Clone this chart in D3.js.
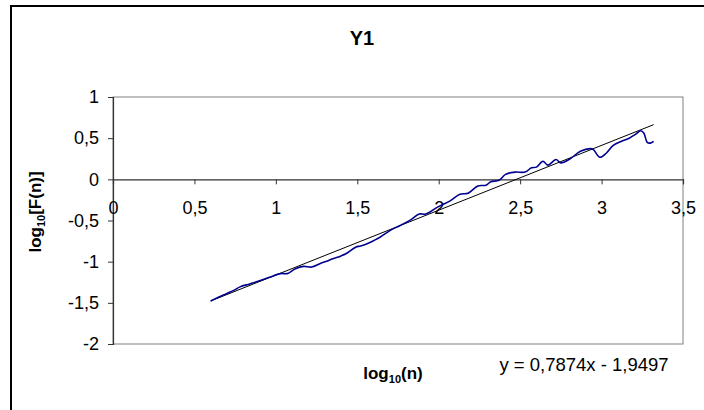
<!DOCTYPE html>
<html>
<head>
<meta charset="utf-8">
<script src="https://cdn.jsdelivr.net/npm/d3@7"></script>
<style>
  html, body { margin: 0; padding: 0; background: #fff; }
  svg { display: block; font-family: Arial, "Liberation Sans", sans-serif; }
</style>
</head>
<body>
<svg id="chart" width="704" height="410"></svg>
<script>
// ---- data ----
const title = "Y1";
const logN = [0.60,0.65,0.70,0.75,0.78,0.84,0.90,0.96,1.03,1.07,1.12,1.17,1.22,1.27,1.31,1.35,1.40,1.43,1.49,1.52,1.56,1.60,1.64,1.70,1.76,1.82,1.88,1.92,1.99,2.03,2.07,2.13,2.18,2.24,2.29,2.32,2.37,2.41,2.47,2.53,2.57,2.60,2.64,2.67,2.72,2.75,2.80,2.87,2.93,2.95,2.99,3.03,3.07,3.12,3.17,3.21,3.24,3.26,3.28,3.30,3.32];
const logF = [-1.478,-1.43,-1.386,-1.34,-1.306,-1.27,-1.233,-1.19,-1.145,-1.145,-1.085,-1.057,-1.065,-1.024,-0.995,-0.964,-0.93,-0.904,-0.824,-0.81,-0.783,-0.745,-0.703,-0.623,-0.563,-0.502,-0.422,-0.422,-0.341,-0.30,-0.261,-0.181,-0.169,-0.08,-0.072,-0.029,-0.012,0.06,0.088,0.088,0.14,0.148,0.22,0.172,0.24,0.2,0.24,0.34,0.373,0.36,0.268,0.32,0.41,0.46,0.50,0.55,0.59,0.56,0.45,0.44,0.46];
const trendSlope = 0.7874;
const trendIntercept = -1.9497;
const trendLabel = "y = 0,7874x - 1,9497";
const xTicks = [0, 0.5, 1, 1.5, 2, 2.5, 3, 3.5];
const yTicks = [1, 0.5, 0, -0.5, -1, -1.5, -2];
const fmt = v => String(v).replace(".", ",");

// ---- layout ----
const svg = d3.select("#chart");
const L = 113, R = 683, T = 97, B = 344;
const x = d3.scaleLinear().domain([0, 3.5]).range([L, R]);
const y = d3.scaleLinear().domain([-2, 1]).range([B, T]);
const FONT = "Arial, 'Liberation Sans', sans-serif";

// outer chart border (only top & left visible)
svg.append("rect").attr("x", 11).attr("y", 6).attr("width", 800).attr("height", 500)
  .attr("fill", "#fff").attr("stroke", "#000").attr("stroke-width", 2);

// plot area
svg.append("rect").attr("x", L).attr("y", T).attr("width", R - L).attr("height", B - T)
  .attr("fill", "#fff").attr("stroke", "#808080").attr("stroke-width", 1);

// title
svg.append("text").attr("x", 362).attr("y", 45).attr("text-anchor", "middle")
  .attr("font-size", 20).attr("font-weight", "bold").text(title);

// y axis
const yAxis = d3.axisLeft(y).tickValues(yTicks).tickSize(5).tickPadding(9).tickFormat(fmt);
const gy = svg.append("g").attr("transform", `translate(${L},0)`).call(yAxis);
gy.select(".domain").attr("stroke", "#333").attr("stroke-width", 1.2);
gy.selectAll(".tick line").attr("stroke", "#333");
gy.selectAll("text").attr("font-size", 18).attr("font-family", FONT).attr("fill", "#000");

// x axis at y = 0
const xAxis = d3.axisBottom(x).tickValues(xTicks).tickSize(5).tickPadding(17).tickFormat(fmt);
const gx = svg.append("g").attr("transform", `translate(0,${y(0)})`).call(xAxis);
gx.select(".domain").attr("stroke", "#333").attr("stroke-width", 1.2);
gx.selectAll(".tick line").attr("stroke", "#333");
gx.selectAll("text").attr("font-size", 18).attr("font-family", FONT).attr("fill", "#000");

// trend line
const x0 = d3.min(logN), x1 = d3.max(logN);
svg.append("line")
  .attr("x1", x(x0)).attr("y1", y(trendSlope * x0 + trendIntercept))
  .attr("x2", x(x1)).attr("y2", y(trendSlope * x1 + trendIntercept))
  .attr("stroke", "#000").attr("stroke-width", 1);

// data line
const pts = logN.map((v, i) => [v, logF[i]]);
svg.append("path").datum(pts)
  .attr("fill", "none").attr("stroke", "#000090").attr("stroke-width", 1.6)
  .attr("d", d3.line().x(d => x(d[0])).y(d => y(d[1])).curve(d3.curveCatmullRom.alpha(0.5)));

// axis titles
const xt = svg.append("text").attr("x", 393).attr("y", 379).attr("text-anchor", "middle")
  .attr("font-size", 17).attr("font-weight", "bold");
xt.append("tspan").text("log");
xt.append("tspan").attr("font-size", 11).attr("dy", 4).text("10");
xt.append("tspan").attr("dy", -4).text("(n)");

const yt = svg.append("text").attr("transform", "translate(41,212) rotate(-90)")
  .attr("text-anchor", "middle").attr("font-size", 17).attr("font-weight", "bold");
yt.append("tspan").text("log");
yt.append("tspan").attr("font-size", 11).attr("dy", 4).text("10");
yt.append("tspan").attr("dy", -4).text("[F(n)]");

// trend equation
svg.append("text").attr("x", 584).attr("y", 371).attr("text-anchor", "middle")
  .attr("font-size", 18.5).text(trendLabel);
</script>
</body>
</html>
